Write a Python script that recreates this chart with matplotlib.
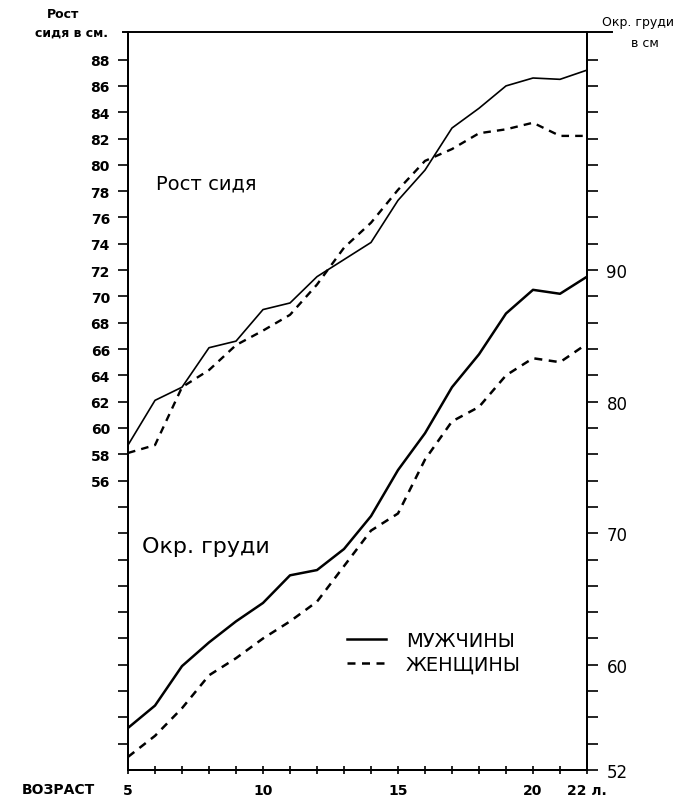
import matplotlib
matplotlib.use("Agg")
import matplotlib.pyplot as plt
from matplotlib.lines import Line2D

# Age in years
ages = list(range(5, 23))

# Sitting height, cm (left scale)
sit_men = [58.7, 62.1, 63.1, 66.1, 66.6, 69.0, 69.5, 71.5, 72.8,
           74.1, 77.3, 79.6, 82.8, 84.3, 86.0, 86.6, 86.5, 87.2]
sit_women = [58.1, 58.7, 63.1, 64.4, 66.3, 67.4, 68.6, 70.9, 73.7,
             75.6, 78.1, 80.3, 81.2, 82.4, 82.7, 83.2, 82.2, 82.2]

# Chest circumference, cm (right scale)
chest_men = [55.2, 56.9, 59.9, 61.7, 63.3, 64.7, 66.8, 67.2, 68.8,
             71.3, 74.8, 77.6, 81.1, 83.6, 86.7, 88.5, 88.2, 89.5]
chest_women = [53.0, 54.6, 56.7, 59.2, 60.5, 62.0, 63.3, 64.8, 67.5,
               70.2, 71.5, 75.6, 78.5, 79.6, 82.0, 83.3, 83.0, 84.4]

left_ticks = list(range(36, 90, 2))
left_labels = [str(t) if t >= 56 else "" for t in left_ticks]
right_ticks = list(range(52, 108, 2))
right_labels = [str(t) if t in (52, 60, 70, 80, 90) else "" for t in right_ticks]
x_ticks = ages
x_labels = {5: "5", 10: "10", 15: "15", 20: "20", 22: "22 л."}

legend_labels = ["МУЖЧИНЫ", "ЖЕНЩИНЫ"]

DASH = (0, (3.2, 2.6))

fig = plt.figure(figsize=(6.82, 8.04), dpi=100)
ax = fig.add_axes([0.1877, 0.041, 0.673, 0.918])
ax2 = ax.twinx()

ax.set_xlim(5, 22)
ax.set_ylim(34, 90.1)
ax2.set_ylim(52, 108.1)

ax.plot(ages, sit_men, color="black", lw=1.2, solid_joinstyle="round")
ax.plot(ages, sit_women, color="black", lw=1.7, linestyle=DASH)
men_line, = ax2.plot(ages, chest_men, color="black", lw=1.8)
women_line, = ax2.plot(ages, chest_women, color="black", lw=1.8, linestyle=DASH)

for a in (ax, ax2):
    a.spines["top"].set_visible(False)
    for s in a.spines.values():
        s.set_linewidth(1.4)

# top rule extends a little beyond both axes
ax.add_line(Line2D([-0.012, 1.055], [1, 1], transform=ax.transAxes,
                   color="black", lw=1.4, clip_on=False))

ax.set_yticks(left_ticks)
ax.set_yticklabels(left_labels, fontsize=10, fontweight="bold")
ax.tick_params(axis="y", direction="out", length=7, width=1.2, pad=6)

ax2.set_yticks(right_ticks)
ax2.set_yticklabels(right_labels, fontsize=12)
ax2.tick_params(axis="y", direction="out", length=8, width=1.2, pad=6)

ax.set_xticks(x_ticks)
ax.set_xticklabels([x_labels.get(a, "") for a in x_ticks],
                   fontsize=10, fontweight="bold")
ax.tick_params(axis="x", direction="inout", length=6, width=1.2, pad=6)

ax.text(0.06, 0.795, "Рост сидя", transform=ax.transAxes,
        fontsize=14, va="center", ha="left")
ax.text(0.03, 0.303, "Окр. груди", transform=ax.transAxes,
        fontsize=16, va="center", ha="left")

fig.text(0.092, 0.978, "Рост", fontsize=9, fontweight="bold", ha="center")
fig.text(0.105, 0.955, "сидя в см.", fontsize=9, fontweight="bold", ha="center")
fig.text(0.935, 0.968, "Окр. груди", fontsize=9, ha="center")
fig.text(0.945, 0.942, "в см", fontsize=9, ha="center")
fig.text(0.085, 0.012, "ВОЗРАСТ", fontsize=10, fontweight="bold", ha="center")

ax2.legend([men_line, women_line], legend_labels,
           loc="upper left", bbox_to_anchor=(0.44, 0.212),
           frameon=False, fontsize=14, handlelength=2.0,
           handletextpad=1.0, labelspacing=0.25)

fig.savefig("out.png", dpi=100, facecolor="white")
